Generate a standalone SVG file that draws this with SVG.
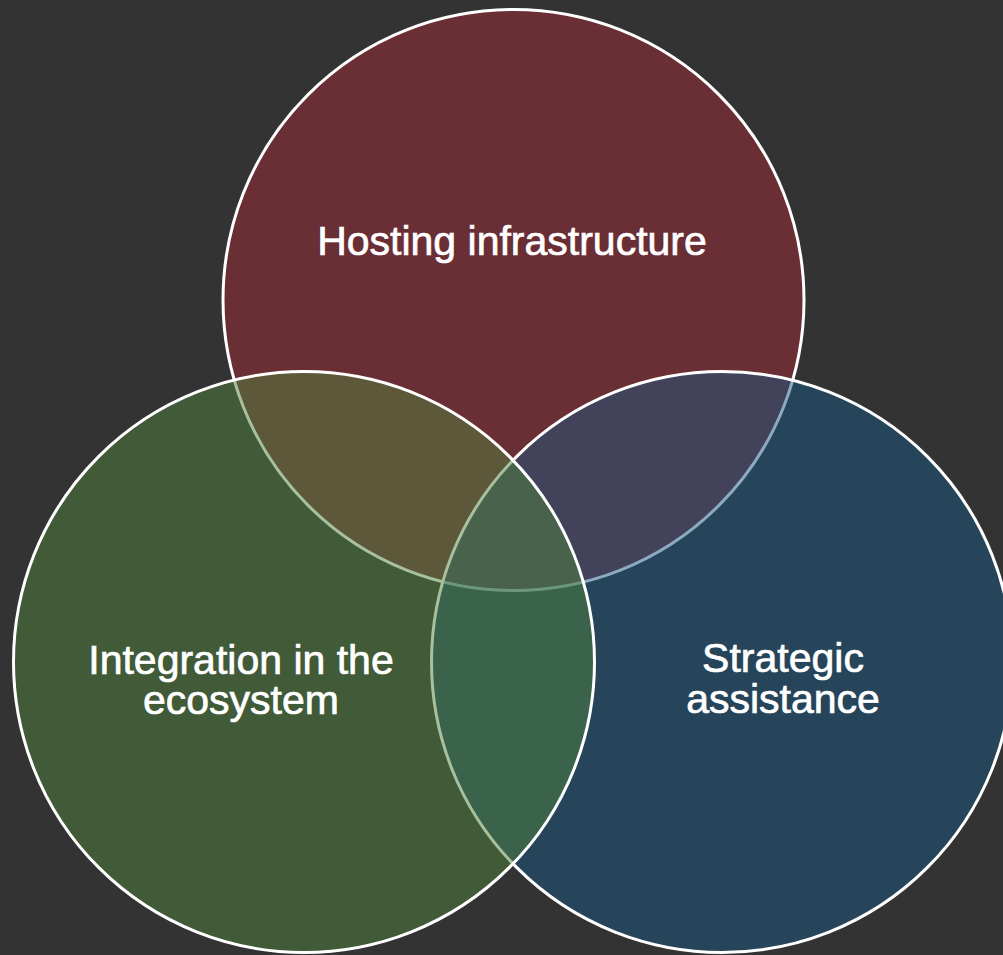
<svg xmlns="http://www.w3.org/2000/svg" width="1003" height="955" viewBox="0 0 1003 955">
<style>
.c{stroke:#ffffff;stroke-width:3;fill-opacity:0.5}
.t{font-family:"Liberation Sans",Arial,sans-serif;font-size:41px;fill:#ffffff;stroke:#ffffff;stroke-width:0.7;text-anchor:middle}
</style>
<rect width="1003" height="955" fill="#333333"/>
<g id="hosting">
<circle class="c" cx="513.5" cy="300" r="290.5" fill="#A12937"/>
<text class="t" x="512" y="255">Hosting infrastructure</text>
</g>
<g id="strategic">
<circle class="c" cx="722" cy="662" r="290.5" fill="#195781"/>
<text class="t" x="783" y="672">Strategic</text>
<text class="t" x="783" y="713">assistance</text>
</g>
<g id="integration">
<circle class="c" cx="304" cy="662" r="290.5" fill="#4F813D"/>
<text class="t" x="241" y="674">Integration in the</text>
<text class="t" x="241" y="714">ecosystem</text>
</g>
<g id="connectors"/>
</svg>
